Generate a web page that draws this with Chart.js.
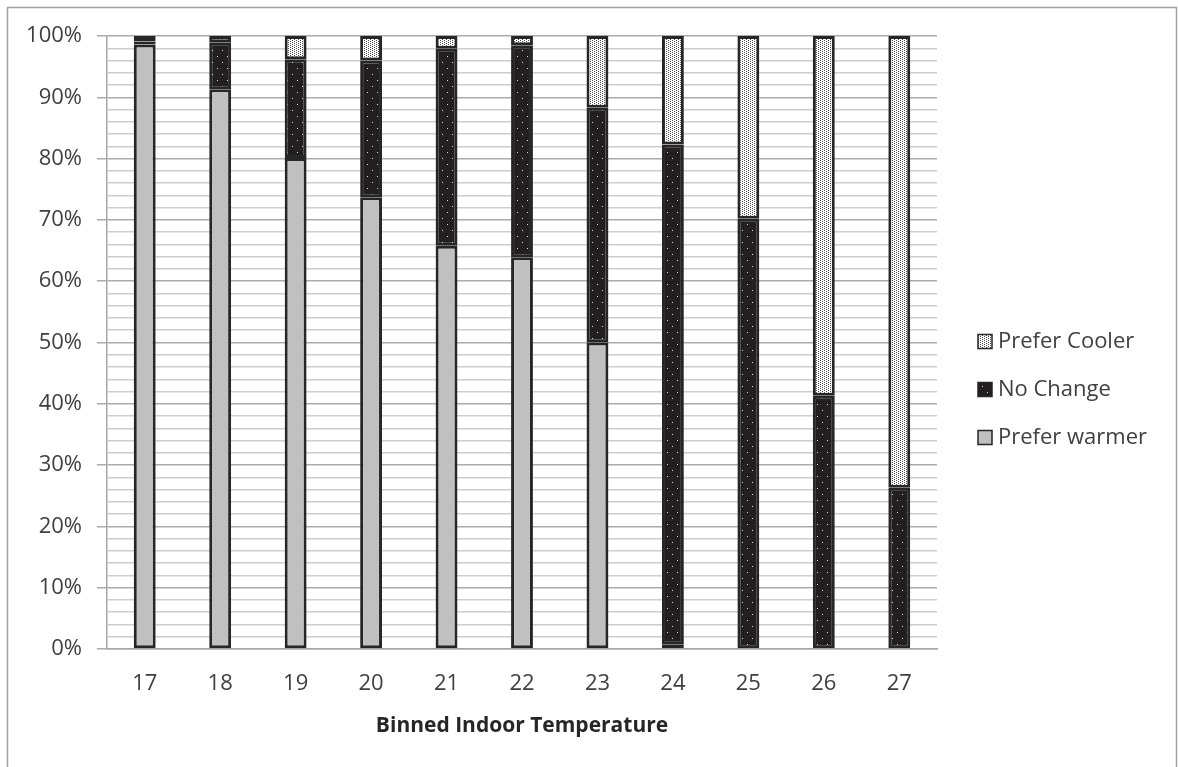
<!DOCTYPE html>
<html>
<head>
<meta charset="utf-8">
<script src="https://cdn.jsdelivr.net/npm/chart.js@4/dist/chart.umd.min.js"></script>
<style>
  html, body { margin: 0; padding: 0; background: #ffffff; }
  canvas { display: block; }
</style>
</head>
<body>
<canvas id="chart" width="1178" height="767"></canvas>
<script>
// Binned indoor temperature (°C)
const temperatures = ['17', '18', '19', '20', '21', '22', '23', '24', '25', '26', '27'];

// Share of votes per bin (%)
const preferWarmer = [98.6, 91.3, 80.1, 73.7, 65.8, 63.9, 50.0, 0.7, 0, 0, 0];
const noChange     = [0.5, 7.7, 16.1, 22.3, 32.1, 34.6, 38.3, 81.6, 70.2, 41.3, 26.3];
const preferCooler = [0.9, 1.0, 3.8, 4.0, 2.1, 1.5, 11.7, 17.7, 29.8, 58.7, 73.7];

const seriesNames = ['Prefer warmer', 'No Change', 'Prefer Cooler'];

// Fill patterns
function makePattern(w, h, bg, dot, dots) {
  const c = document.createElement('canvas');
  c.width = w; c.height = h;
  const g = c.getContext('2d');
  g.fillStyle = bg;
  g.fillRect(0, 0, w, h);
  g.fillStyle = dot;
  dots.forEach(([x, y]) => g.fillRect(x, y, 1, 1));
  return g.createPattern(c, 'repeat');
}
const darkFill = makePattern(10, 12, '#231f20', '#e0e0e0', [[2, 2], [7, 8]]);
const lightDotFill = makePattern(4, 4, '#ffffff', '#4a4a4a', [[0, 0], [2, 1], [0, 2], [2, 3]]);
const greyFill = '#c0c0c0';

const FONT = '"Open Sans", Lato, sans-serif';
const TEXT = '#404040';

// Outer frame around the whole figure
const framePlugin = {
  id: 'frame',
  beforeDraw(chart) {
    const ctx = chart.ctx;
    ctx.save();
    ctx.strokeStyle = '#a0a0a0';
    ctx.lineWidth = 1.5;
    ctx.strokeRect(7.5, 7.5, chart.width - 9, chart.height + 20);
    ctx.restore();
  }
};

// Vertical legend on the right, top-most series first
const sideLegend = {
  id: 'sideLegend',
  afterDraw(chart) {
    const ctx = chart.ctx;
    const ds = chart.data.datasets.slice().reverse();
    const x = chart.chartArea.right + 41;
    const gap = 48;
    const cy = chart.height / 2 + 6;
    const y0 = cy - gap * (ds.length - 1) / 2;
    ctx.save();
    ctx.font = '22px ' + FONT;
    ctx.textBaseline = 'middle';
    ctx.textAlign = 'left';
    ds.forEach((d, i) => {
      const y = y0 + i * gap;
      ctx.fillStyle = d.backgroundColor;
      ctx.fillRect(x, y - 7, 14, 14);
      ctx.strokeStyle = '#262626';
      ctx.lineWidth = 1.5;
      ctx.strokeRect(x, y - 7, 14, 14);
      ctx.fillStyle = TEXT;
      ctx.fillText(d.label, x + 20, y);
    });
    ctx.restore();
  }
};

new Chart(document.getElementById('chart'), {
  type: 'bar',
  data: {
    labels: temperatures,
    datasets: [
      { label: seriesNames[0], data: preferWarmer, backgroundColor: greyFill },
      { label: seriesNames[1], data: noChange, backgroundColor: darkFill },
      { label: seriesNames[2], data: preferCooler, backgroundColor: lightDotFill }
    ].map(d => Object.assign(d, {
      borderColor: '#262626',
      borderWidth: 3,
      borderSkipped: false,
      categoryPercentage: 1,
      barPercentage: 0.29
    }))
  },
  options: {
    responsive: false,
    animation: false,
    layout: { padding: { left: 0, right: 241, top: 36, bottom: 0 } },
    plugins: {
      legend: { display: false },
      tooltip: { enabled: false }
    },
    scales: {
      x: {
        stacked: true,
        grid: { display: false, drawTicks: false },
        border: { display: true, color: '#a8a8a8', width: 1.5 },
        ticks: { color: TEXT, font: { family: FONT, size: 22 }, padding: 22 },
        title: {
          display: true,
          text: 'Binned Indoor Temperature',
          color: '#262626',
          font: { family: FONT, size: 21, weight: 'bold' },
          padding: { top: 0, bottom: 28 }
        },
        afterFit(scale) { scale.height = 118; }
      },
      y: {
        stacked: true,
        min: 0,
        max: 100,
        ticks: {
          stepSize: 2,
          autoSkip: false,
          color: TEXT,
          font: { family: FONT, size: 22 },
          padding: 15,
          callback: v => (v % 10 === 0 ? v + '%' : '')
        },
        grid: {
          color: c => (c.tick && c.tick.value % 10 === 0 ? '#ababab' : '#cdcdcd'),
          tickColor: c => (c.tick && c.tick.value % 10 === 0 ? '#ababab' : 'rgba(0,0,0,0)'),
          lineWidth: 1.5,
          tickLength: 10
        },
        border: { display: true, color: '#a8a8a8', width: 1.5 },
        afterFit(scale) { scale.width = 107; }
      }
    }
  },
  plugins: [framePlugin, sideLegend]
});
</script>
</body>
</html>
